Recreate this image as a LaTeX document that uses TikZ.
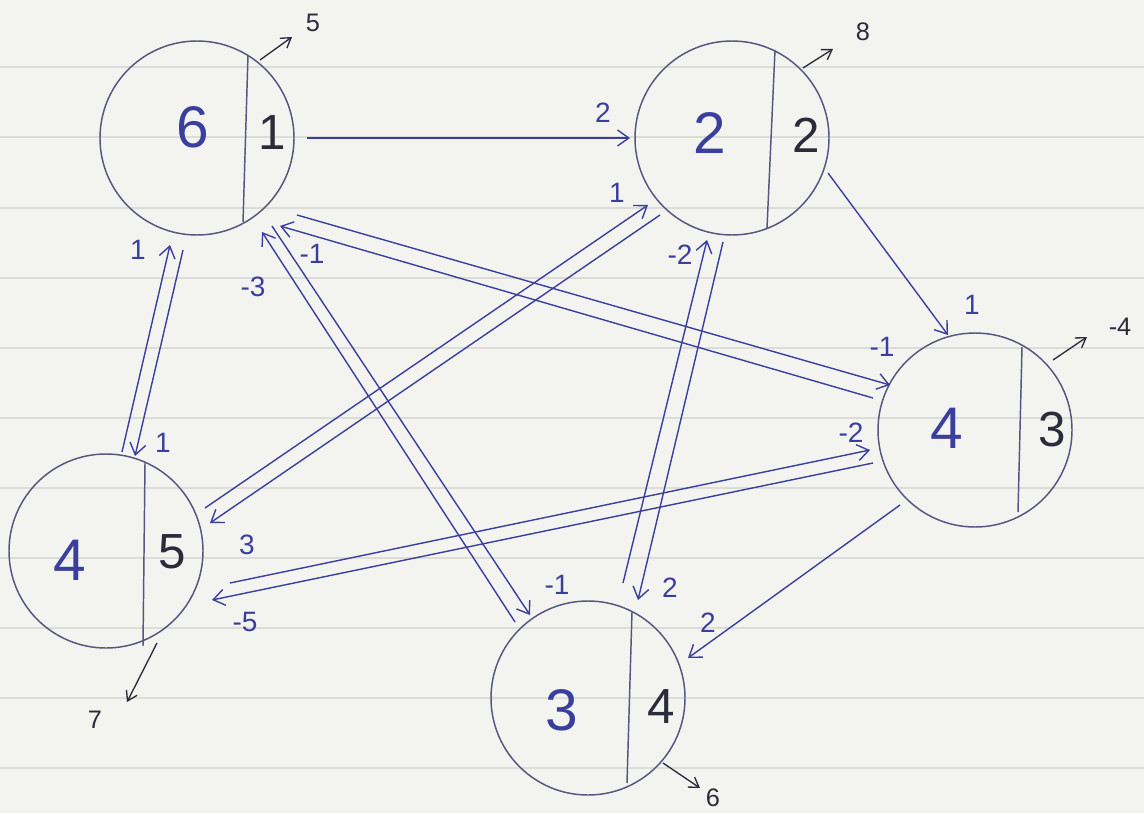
\documentclass[tikz,border=0pt]{standalone}
\usepackage{fontspec}
\setmainfont{Liberation Sans}
\usetikzlibrary{calc,arrows.meta}
\definecolor{paper}{HTML}{F3F3F0}
\definecolor{rulecol}{HTML}{DCDCD9}
\definecolor{ink}{HTML}{3A3F9E}
\definecolor{pencil}{HTML}{55577E}
\definecolor{dark}{HTML}{2B2B3A}
\begin{document}
\begin{tikzpicture}[x=0.75pt,y=-0.75pt,
  state/.style={circle,draw=pencil,line width=1.1pt,minimum size=145.5pt,inner sep=0pt},
  divider/.style={draw=pencil,line width=1.1pt},
  lnum/.style={text=ink,font=\fontsize{44}{44}\selectfont,inner sep=0pt},
  rnum/.style={text=dark,font=\fontsize{37}{37}\selectfont,inner sep=0pt},
  wt/.style={text=ink,font=\fontsize{21}{21}\selectfont,inner sep=0pt},
  outl/.style={text=dark,font=\fontsize{19}{19}\selectfont,inner sep=0pt},
  flow/.style={draw=ink,line width=1.05pt,-{Straight Barb[length=8.5pt,width=12pt]}},
  outflow/.style={draw=dark,line width=1pt,-{Straight Barb[length=7pt,width=9pt]}},
]
\fill[paper] (0,0) rectangle (1144,813);
\useasboundingbox (0,0) rectangle (1144,813);
\foreach \y in {67,137,208,278,348,418,488,558,628,698,768}
  \draw[rulecol,line width=1.2pt] (0,\y) -- (1144,\y);

% states
\node[state] (A) at (197,138) {};
\node[state] (B) at (732,138) {};
\node[state] (C) at (975,430) {};
\node[state] (D) at (106,551) {};
\node[state] (E) at (588,698) {};

% dividers
\draw[divider] ($(A.center)+(51,-83)$) -- ($(A.center)+(46,84)$);
\draw[divider] ($(B.center)+(43,-88)$) -- ($(B.center)+(35,90)$);
\draw[divider] ($(C.center)+(47,-83)$) -- ($(C.center)+(43,82)$);
\draw[divider] ($(D.center)+(39,-88)$) -- ($(D.center)+(37,95)$);
\draw[divider] ($(E.center)+(44,-86)$) -- ($(E.center)+(39,85)$);

% numbers
\node[lnum] (A1) at (193,127) {6};
\node[rnum] (A2) at (272,133) {1};
\node[lnum] (B1) at (710,133) {2};
\node[rnum] (B2) at (806,135) {2};
\node[lnum] (C1) at (947,428) {4};
\node[rnum] (C2) at (1052,430) {3};
\node[lnum] (D1) at (70,560) {4};
\node[rnum] (D2) at (172,552) {5};
\node[lnum] (E1) at (562,710) {3};
\node[rnum] (E2) at (661,707) {4};

% single arrows
\draw[flow] ($(A.center)+(110,0)$) -- ($(B.center)+(-102,0)$);
\draw[flow] ($(B.center)+(96,35)$) -- ($(C.center)+(-27,-95)$);
\draw[flow] ($(C.center)+(-75,75)$) -- ($(E.center)+(100,-40)$);

% double arrows
\draw[flow] ($(D.center)+(16,-99)$) -- ($(A.center)+(-27,107)$);
\draw[flow] ($(A.center)+(-14,112)$) -- ($(D.center)+(29,-95)$);
\draw[flow] ($(E.center)+(-73,-76)$) -- ($(A.center)+(65,94)$);
\draw[flow] ($(A.center)+(75,88)$) -- ($(E.center)+(-58,-83)$);
\draw[flow] ($(A.center)+(100,77)$) -- ($(C.center)+(-85,-45)$);
\draw[flow] ($(C.center)+(-102,-32)$) -- ($(A.center)+(83,88)$);
\draw[flow] ($(D.center)+(99,-43)$) -- ($(B.center)+(-84,67)$);
\draw[flow] ($(B.center)+(-72,77)$) -- ($(D.center)+(104,-28)$);
\draw[flow] ($(E.center)+(35,-115)$) -- ($(B.center)+(-25,102)$);
\draw[flow] ($(B.center)+(-9,104)$) -- ($(E.center)+(50,-98)$);
\draw[flow] ($(D.center)+(124,32)$) -- ($(C.center)+(-105,20)$);
\draw[flow] ($(C.center)+(-102,33)$) -- ($(D.center)+(106,49)$);

% weights
\node[wt] (wAB) at (603,113) {2};
\node[wt] (wBC) at (972,305) {1};
\node[wt] (wCE) at (708,623) {2};
\node[wt] (wAD1) at (138,250) {1};
\node[wt] (wAD2) at (163,443) {1};
\node[wt] (wAE1) at (253,287) {-3};
\node[wt] (wAE2) at (557,585) {-1};
\node[wt] (wAC1) at (312,254) {-1};
\node[wt] (wAC2) at (882,347) {-1};
\node[wt] (wBD1) at (617,193) {1};
\node[wt] (wBD2) at (247,545) {3};
\node[wt] (wBE1) at (680,255) {-2};
\node[wt] (wBE2) at (670,588) {2};
\node[wt] (wCD1) at (851,433) {-2};
\node[wt] (wCD2) at (245,622) {-5};

% outgoing
\coordinate (tA) at (292,37);
\coordinate (tB) at (833,49);
\coordinate (tC) at (1087,337);
\coordinate (tD) at (127,702);
\coordinate (tE) at (700,788);
\draw[outflow] ($(A.center)+(63,-78)$) -- (tA);
\draw[outflow] ($(B.center)+(71,-70)$) -- (tB);
\draw[outflow] ($(C.center)+(78,-70)$) -- (tC);
\draw[outflow] ($(D.center)+(51,92)$) -- (tD);
\draw[outflow] ($(E.center)+(75,65)$) -- (tE);
\node[outl] (oA) at (313,23) {5};
\node[outl] (oB) at (863,32) {8};
\node[outl] (oC) at (1120,327) {-4};
\node[outl] (oD) at (95,720) {7};
\node[outl] (oE) at (713,798) {6};
\end{tikzpicture}
\end{document}
